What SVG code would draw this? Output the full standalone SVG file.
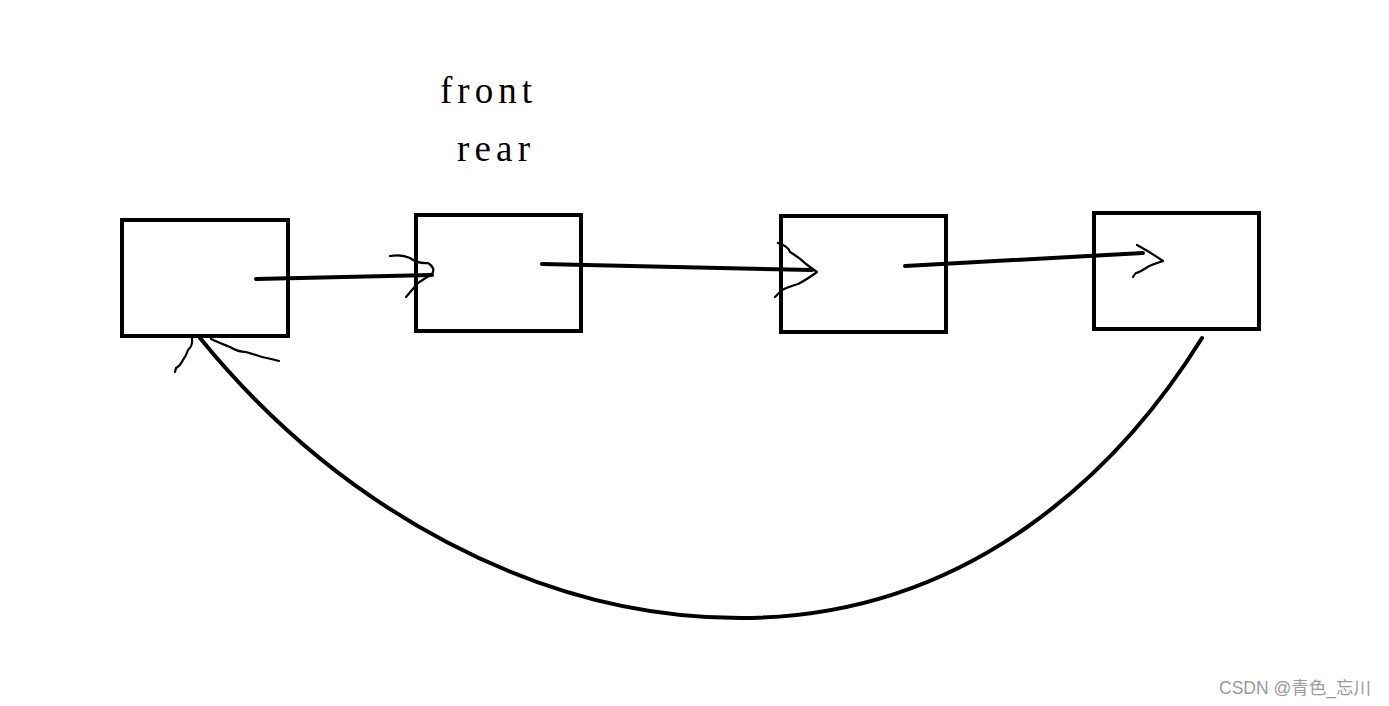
<svg xmlns="http://www.w3.org/2000/svg" width="1389" height="706" viewBox="0 0 1389 706">
<style>
.box{fill:none;stroke:#000;stroke-width:4}
.ln{fill:none;stroke:#000;stroke-width:4;stroke-linecap:round}
.hd{fill:none;stroke:#000;stroke-width:2.2;stroke-linecap:round;stroke-linejoin:round}
.lbl{font-family:"Liberation Serif",serif;font-size:37px;fill:#000}
.wm{font-family:"Liberation Sans","Noto Sans CJK SC",sans-serif;font-size:17.5px;fill:#9a9a9a}
</style>
<rect width="1389" height="706" fill="#fff"/>
<g id="labels">
<text class="lbl" x="440" y="103" textLength="92" lengthAdjust="spacing">front</text>
<text class="lbl" x="457" y="161" textLength="73" lengthAdjust="spacing">rear</text>
</g>
<g id="node1"><rect class="box" x="122" y="220" width="166" height="116"/></g>
<g id="node2"><rect class="box" x="416" y="215" width="165" height="116"/></g>
<g id="node3"><rect class="box" x="781" y="216" width="165" height="116"/></g>
<g id="node4"><rect class="box" x="1094" y="213" width="165" height="116"/></g>
<g id="connectors">
<path class="ln" d="M256,279 L432,275"/>
<path class="hd" d="M390,256 Q402,254 410,258 Q418,264 428,263 Q436,268 432,274 Q424,279 418,283 Q412,290 406,297"/>
<path class="ln" d="M542,264 L812,270"/>
<path class="hd" d="M778,243 Q788,246 790,252 Q800,258 806,264 Q814,270 817,272 Q806,280 798,284 Q788,287 782,290 Q778,294 775,297"/>
<path class="ln" d="M905,266 L1143,253"/>
<path class="hd" d="M1137,245 Q1150,252 1163,261 Q1150,265 1146,268 Q1140,272 1136,273 Q1134,275 1133,277"/>
<path class="ln" d="M1202,338 C1120,470 970,618 740,618 C540,618 340,510 200,338"/>
<path class="hd" d="M192,338 Q193,346 188,350 Q186,356 183,360 Q180,366 176,368 L175,372"/>
<path class="hd" d="M211,339 Q222,344 230,347 Q238,352 246,352 Q256,355 262,357 Q272,359 279,361"/>
</g>
<text class="wm" x="1219" y="694">CSDN @青色_忘川</text>
</svg>
